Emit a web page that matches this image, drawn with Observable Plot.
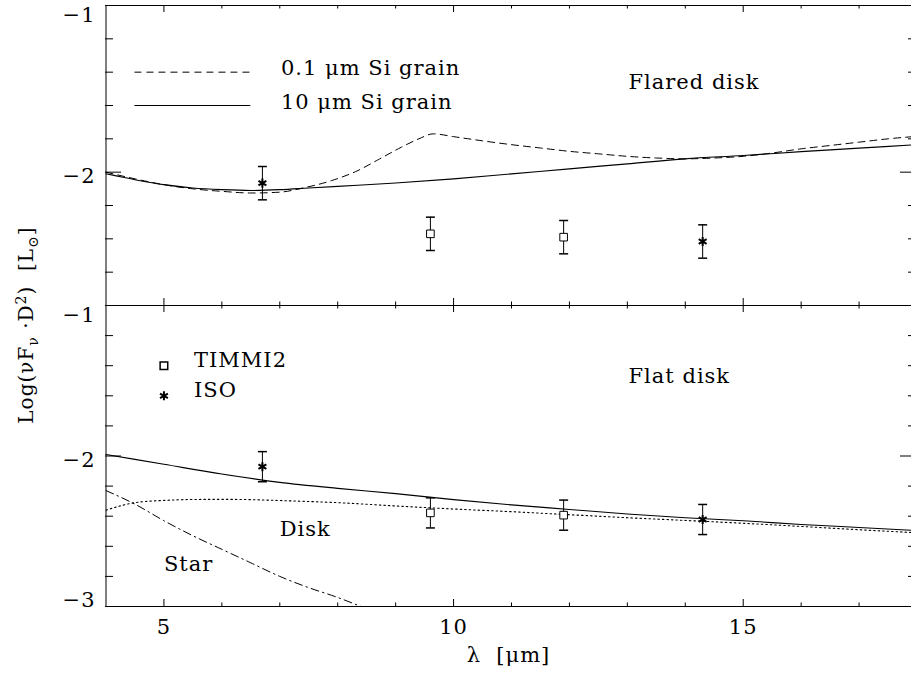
<!DOCTYPE html>
<html>
<head>
<meta charset="utf-8">
<script src="https://cdn.jsdelivr.net/npm/d3@7"></script>
<script src="https://cdn.jsdelivr.net/npm/@observablehq/plot@0.6"></script>
<style>
  html, body { margin: 0; padding: 0; background: #fff; overflow: hidden; }
  #chart { position: relative; width: 911px; height: 677px; }
  #chart svg { position: absolute; left: 0; }
  #ylabel {
    position: absolute; left: 27px; top: 325px;
    transform: translate(-50%, -50%) rotate(-90deg);
    white-space: nowrap; font-family: "DejaVu Serif", serif; font-size: 20px;
    letter-spacing: 1px; color: #000; line-height: 1;
  }
  #ylabel sub, #ylabel sup { font-size: 70%; }
</style>
</head>
<body>
<div id="chart">
  <div id="ylabel">Log(νF<sub>ν</sub> ·D<sup>2</sup>)&nbsp;&nbsp;[L<sub>⊙</sub>]</div>
</div>
<script>
// ---------- tick values ----------
const xMajor = [5, 10, 15];
const xMinor = [6, 7, 8, 9, 11, 12, 13, 14, 16, 17];
const topYMajor = [-1, -2];
const topYMinor = [-1.2, -1.4, -1.6, -1.8, -2.2, -2.4, -2.6];
const botYMajor = [-1, -2, -3];
const botYMinor = [-1.2, -1.4, -1.6, -1.8, -2.2, -2.4, -2.6, -2.8];

// ---------- top panel: flared disk models ----------
const flared10umX = [4, 4.5, 5, 5.5, 6, 6.5, 7, 7.5, 8, 9, 10, 11, 12, 13, 14, 15, 16, 17, 18];
const flared10umY = [-2.01, -2.045, -2.075, -2.095, -2.105, -2.11, -2.105, -2.095, -2.085, -2.065, -2.04, -2.01, -1.98, -1.95, -1.92, -1.90, -1.877, -1.856, -1.835];
const flared01umX = [4, 4.5, 5, 5.5, 6, 6.5, 7, 7.4, 7.9, 8.35, 8.7, 9.1, 9.4, 9.65, 10, 10.5, 11, 11.5, 12, 12.5, 13, 13.5, 14, 14.5, 15, 15.5, 16, 16.5, 17, 17.5, 18];
const flared01umY = [-2.0, -2.04, -2.075, -2.10, -2.115, -2.125, -2.12, -2.095, -2.05, -1.99, -1.925, -1.85, -1.80, -1.77, -1.787, -1.812, -1.835, -1.855, -1.875, -1.89, -1.905, -1.915, -1.92, -1.915, -1.905, -1.885, -1.86, -1.84, -1.82, -1.80, -1.785];

// ---------- bottom panel: flat disk models ----------
const flatTotalX = [4, 5, 6, 7, 8, 9, 10, 11, 12, 13, 14, 15, 16, 17, 18];
const flatTotalY = [-1.99, -2.055, -2.12, -2.175, -2.215, -2.25, -2.29, -2.325, -2.355, -2.385, -2.41, -2.43, -2.455, -2.475, -2.495];
const flatDiskX = [4, 4.5, 5, 5.5, 6, 6.5, 7, 8, 9, 10, 11, 12, 13, 14, 15, 16, 17, 18];
const flatDiskY = [-2.36, -2.31, -2.295, -2.289, -2.288, -2.29, -2.296, -2.31, -2.332, -2.352, -2.37, -2.39, -2.41, -2.428, -2.447, -2.468, -2.49, -2.51];
const starX = [4, 4.5, 5, 5.5, 6, 6.5, 7, 7.5, 8, 8.4];
const starY = [-2.23, -2.32, -2.43, -2.53, -2.62, -2.71, -2.80, -2.875, -2.94, -3.0];

// ---------- observations ----------
const timmiX = [9.6, 11.9];
const timmiTopY = [-2.37, -2.39];
const timmiBotY = [-2.378, -2.393];
const timmiErr = [0.1, 0.1];
const isoX = [6.7, 14.3];
const isoTopY = [-2.066, -2.416];
const isoBotY = [-2.071, -2.422];
const isoErr = [0.1, 0.1];

// ---------- labels ----------
const modelLegendLabels = ["0.1 μm Si grain", "10 μm Si grain"];
const modelLegendY = [-1.4, -1.6];
const obsLegendLabels = ["TIMMI2", "ISO"];
const obsLegendY = [-1.4, -1.6];
const panelTitles = ["Flared disk", "Flat disk"];
const componentLabels = ["Disk", "Star"];
const componentLabelX = [7.0, 5.0];
const componentLabelY = [-2.49, -2.72];
const xTitle = "λ  [μm]";

// ---------- layout / style ----------
const W = 911, ML = 105, MR = 0;
const FONT = "DejaVu Serif, serif";
const TICK = { xMaj: 7, xMin: 3.5, yMaj: 16, yMin: 8, rMaj: 11, rMin: 3 };
const yLabelNudge = { "-1": 10, "-2": 4, "-3": -6 };
const DASH = "7,5", DOT = "1.5,3", DASHDOT = "8,4,1.5,4";

const pts = (xs, ys) => xs.map((x, i) => ({ x, y: ys[i] }));
const errPts = (xs, ys, es) => xs.map((x, i) => ({ x, y: ys[i], e: es[i] }));
const fmtY = d => "\u2212" + Math.abs(d);
const capSymbol = { draw(ctx) { ctx.moveTo(-4.5, 0); ctx.lineTo(4.5, 0); } };

function frameMarks(yDomain, yMajor, yMinor, fh) {
  const fw = W - ML - MR;
  return [
    Plot.ruleX([4], { x: d => d, stroke: "#000" }),
    Plot.ruleY(yDomain, { y: d => d, stroke: "#000" }),
    Plot.tickX(xMajor, { x: d => d, insetTop: fh - TICK.xMaj }),
    Plot.tickX(xMinor, { x: d => d, insetTop: fh - TICK.xMin }),
    Plot.tickX(xMajor, { x: d => d, insetBottom: fh - TICK.xMaj }),
    Plot.tickX(xMinor, { x: d => d, insetBottom: fh - TICK.xMin }),
    Plot.tickY(yMajor, { y: d => d, insetRight: fw - TICK.yMaj }),
    Plot.tickY(yMinor, { y: d => d, insetRight: fw - TICK.yMin }),
    Plot.tickY(yMajor, { y: d => d, insetLeft: fw - TICK.rMaj }),
    Plot.tickY(yMinor, { y: d => d, insetLeft: fw - TICK.rMin }),
    ...yMajor.map(v => Plot.text([v], {
      y: d => d, text: fmtY, frameAnchor: "left", dx: -10, dy: yLabelNudge[String(v)], textAnchor: "end"
    }))
  ];
}

function obsMarks(timmi, iso) {
  return [
    Plot.ruleX([...timmi, ...iso], { x: "x", y1: d => d.y - d.e, y2: d => d.y + d.e, stroke: "#000" }),
    Plot.dot([...timmi, ...iso], { x: "x", y: d => d.y + d.e, symbol: capSymbol, r: 4, stroke: "#000", fill: "none" }),
    Plot.dot([...timmi, ...iso], { x: "x", y: d => d.y - d.e, symbol: capSymbol, r: 4, stroke: "#000", fill: "none" }),
    Plot.dot(timmi, { x: "x", y: "y", symbol: "square", r: 4.3, stroke: "#000", fill: "#fff", strokeWidth: 1 }),
    Plot.dot(iso, { x: "x", y: "y", symbol: "asterisk", r: 4.3, stroke: "#000", strokeWidth: 2 })
  ];
}

const commonStyle = {
  background: "transparent", overflow: "visible", fontFamily: FONT, fontSize: "21px",
  letterSpacing: "1px", color: "#000"
};

// ---------- TOP PANEL ----------
const topH = 306, topMT = 5, topMB = 1;
const topPlot = Plot.plot({
  width: W, height: topH, marginLeft: ML, marginRight: MR, marginTop: topMT, marginBottom: topMB,
  x: { domain: [4, 18], range: [105.5, 916.5], axis: null },
  y: { domain: [-2.8, -1], axis: null },
  style: commonStyle,
  marks: [
    ...frameMarks([-2.8, -1], topYMajor, topYMinor, topH - topMT - topMB),
    Plot.line(pts(flared01umX, flared01umY), { x: "x", y: "y", curve: "monotone-x", stroke: "#000", strokeWidth: 1, strokeDasharray: DASH }),
    Plot.line(pts(flared10umX, flared10umY), { x: "x", y: "y", curve: "monotone-x", stroke: "#000", strokeWidth: 1.1 }),
    ...obsMarks(errPts(timmiX, timmiTopY, timmiErr), errPts(isoX, isoTopY, isoErr)),
    Plot.ruleY([modelLegendY[0]], { y: d => d, x1: 4.5, x2: 6.5, stroke: "#000", strokeDasharray: DASH }),
    Plot.ruleY([modelLegendY[1]], { y: d => d, x1: 4.5, x2: 6.5, stroke: "#000" }),
    Plot.text(modelLegendLabels, { x: 7.02, y: (d, i) => modelLegendY[i] + 0.022, text: d => d, textAnchor: "start" }),
    Plot.text([panelTitles[0]], { x: 13.02, y: -1.46, text: d => d, textAnchor: "start" })
  ]
});

// ---------- BOTTOM PANEL ----------
const botH = 377, botMT = 5, botMB = 71;
const botPlot = Plot.plot({
  width: W, height: botH, marginLeft: ML, marginRight: MR, marginTop: botMT, marginBottom: botMB,
  x: { domain: [4, 18], range: [105.5, 916.5], axis: null },
  y: { domain: [-3, -1], axis: null },
  style: commonStyle,
  marks: [
    ...frameMarks([-3, -1], botYMajor, botYMinor, botH - botMT - botMB),
    Plot.line(pts(starX, starY), { x: "x", y: "y", curve: "monotone-x", stroke: "#000", strokeWidth: 1, strokeDasharray: DASHDOT }),
    Plot.line(pts(flatDiskX, flatDiskY), { x: "x", y: "y", curve: "monotone-x", stroke: "#000", strokeWidth: 1.1, strokeDasharray: DOT }),
    Plot.line(pts(flatTotalX, flatTotalY), { x: "x", y: "y", curve: "monotone-x", stroke: "#000", strokeWidth: 1.1 }),
    ...obsMarks(errPts(timmiX, timmiBotY, timmiErr), errPts(isoX, isoBotY, isoErr)),
    Plot.dot([obsLegendY[0]], { x: 5.0, y: d => d, symbol: "square", r: 4.3, stroke: "#000", fill: "#fff" }),
    Plot.dot([obsLegendY[1]], { x: 5.0, y: d => d, symbol: "asterisk", r: 4.3, stroke: "#000", strokeWidth: 2 }),
    Plot.text(obsLegendLabels, { x: 5.52, y: (d, i) => obsLegendY[i] + 0.035, text: d => d, textAnchor: "start" }),
    Plot.text([panelTitles[1]], { x: 13.02, y: -1.47, text: d => d, textAnchor: "start" }),
    Plot.text(componentLabels, { x: (d, i) => componentLabelX[i], y: (d, i) => componentLabelY[i], text: d => d, textAnchor: "start" }),
    Plot.text(xMajor, { x: d => d, text: d => String(d), frameAnchor: "bottom", dy: 27 }),
    Plot.text([xTitle], { text: d => d, frameAnchor: "bottom", dy: 55 })
  ]
});

const chart = document.getElementById("chart");
topPlot.style.top = "0px";
botPlot.style.top = "300px";
chart.appendChild(topPlot);
chart.appendChild(botPlot);
</script>
</body>
</html>
